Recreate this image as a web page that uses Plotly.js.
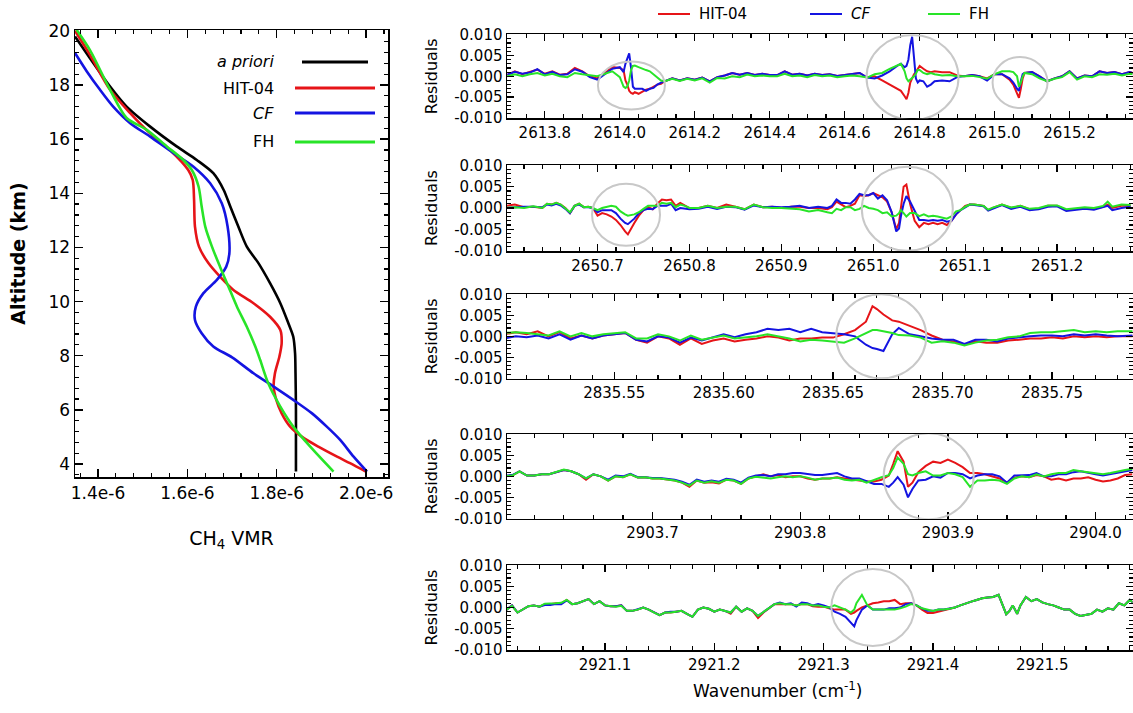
<!DOCTYPE html>
<html><head><meta charset="utf-8">
<script src="https://cdn.plot.ly/plotly-3.0.1.min.js"></script>
<style>html,body{margin:0;padding:0;background:#fff}#chart{width:1133px;height:713px}</style>
</head><body><div id="chart"></div>
<script>
// ---------------- Left panel: CH4 VMR profiles (VMR in units of 1e-6) ----------------
const altApriori = [19.79,18.99,17.94,17.20,16.47,15.73,15.23,14.74,14.13,13.51,12.77,12.03,11.42,10.68,9.94,9.20,8.70,8.09,7.36,6.00,5.00,3.72];
const vmrApriori = [1.3485,1.382,1.427,1.464,1.516,1.576,1.621,1.658,1.681,1.696,1.714,1.733,1.759,1.785,1.808,1.826,1.837,1.841,1.842,1.843,1.843,1.843];
const altHit = [20.0,19.11,17.82,16.96,16.22,15.60,14.86,14.49,13.76,12.77,12.03,11.42,10.92,10.43,9.94,9.44,8.95,8.46,7.97,7.35,6.86,6.37,5.87,5.38,5.01,4.64,4.27,4.03,3.72];
const vmrHit = [1.3485,1.382,1.427,1.472,1.516,1.561,1.602,1.612,1.615,1.617,1.626,1.647,1.673,1.703,1.748,1.785,1.808,1.811,1.806,1.796,1.793,1.799,1.811,1.830,1.856,1.893,1.935,1.964,1.9995];
const altCF = [19.18,18.50,17.82,17.20,16.59,16.10,15.48,14.99,14.37,13.63,12.77,11.79,11.29,10.80,10.31,9.81,9.32,8.83,8.34,7.94,7.35,6.86,6.37,5.87,5.38,4.89,4.27,3.72];
const vmrCF = [1.3485,1.375,1.4045,1.434,1.472,1.516,1.569,1.613,1.651,1.677,1.690,1.694,1.687,1.666,1.636,1.619,1.617,1.632,1.658,1.700,1.748,1.793,1.837,1.879,1.912,1.942,1.972,2.002];
const altFH = [20.04,19.29,17.82,16.78,16.34,15.73,15.23,14.86,14.25,13.51,12.77,12.03,11.29,10.55,9.81,9.07,8.34,7.84,6.98,6.12,5.38,4.64,3.72];
const vmrFH = [1.352,1.382,1.427,1.464,1.509,1.554,1.591,1.610,1.625,1.632,1.640,1.655,1.673,1.692,1.711,1.733,1.752,1.763,1.781,1.808,1.837,1.875,1.927];
const vmrTickVals = [1.4e-6,1.6e-6,1.8e-6,2.0e-6];
const vmrTickText = ['1.4e-6','1.6e-6','1.8e-6','2.0e-6'];
const profileNames = ['a priori','HIT-04','CF','FH'];

// ---------------- Residual panels ----------------
const x1 = [2613.70,2613.72,2613.74,2613.76,2613.78,2613.80,2613.82,2613.84,2613.86,2613.88,
2613.90,2613.92,2613.94,2613.96,2613.98,2614.00,2614.01,2614.015,2614.02,2614.025,
2614.03,2614.035,2614.04,2614.05,2614.06,2614.07,2614.08,2614.09,2614.10,2614.11,
2614.12,2614.14,2614.16,2614.18,2614.20,2614.22,2614.24,2614.26,2614.28,2614.30,
2614.32,2614.34,2614.36,2614.38,2614.40,2614.42,2614.44,2614.46,2614.48,2614.50,
2614.52,2614.54,2614.56,2614.58,2614.60,2614.62,2614.64,2614.66,2614.68,2614.70,
2614.72,2614.74,2614.75,2614.76,2614.765,2614.77,2614.775,2614.78,2614.785,2614.79,
2614.795,2614.80,2614.81,2614.82,2614.83,2614.84,2614.86,2614.88,2614.90,2614.92,
2614.94,2614.96,2614.98,2615.00,2615.02,2615.04,2615.05,2615.06,2615.065,2615.07,
2615.075,2615.08,2615.10,2615.12,2615.14,2615.16,2615.18,2615.20,2615.22,2615.24,
2615.26,2615.28,2615.30,2615.32,2615.34,2615.36,2615.37];
const r1 = [.0003,.0012,.0005,.0010,.0016,.0006,.0012,.0004,.0006,.0020,
.0012,0,-.0005,.0008,.0022,.0020,.0015,-.0010,-.0020,-.0035,
-.0040,-.0042,-.0038,-.0042,-.0038,-.0032,-.0030,-.0025,-.0020,-.0018,
-.0012,-.0005,-.0010,-.0005,-.0008,-.0003,-.0012,-.0002,.0002,.0008,
.0004,.0008,.0003,.0006,.0003,.0003,.0012,.0004,.0006,.0002,
.0006,.0003,.0005,.0001,.0003,.0005,.0008,-.0003,0,-.0010,
-.0020,-.0030,-.0035,-.0048,-.0055,-.0040,-.0015,-.0005,.0005,.0010,
.0018,.0025,.0018,.0012,.0010,.0012,.0010,.0010,.0002,0,
.0003,0,-.0005,.0005,.0005,-.0008,-.0020,-.0042,-.0052,-.0030,
-.0005,.0008,.0010,0,-.0012,-.0005,0,.0012,-.0005,.0002,
0,.0012,.0008,.0010,.0005,.0010,.0008];
const b1 = [.0004,.0011,.0006,.0009,.0017,.0005,.0011,.0003,.0005,.0017,
.0011,-.0002,-.0008,.0006,.0018,.0022,.0010,.0030,.0045,.0055,
.0020,-.0025,-.0030,-.0030,-.0030,-.0035,-.0030,-.0028,-.0020,-.0015,
-.0012,-.0005,-.0010,-.0005,-.0008,-.0003,-.0012,-.0002,.0002,.0008,
.0004,.0008,.0003,.0006,.0003,.0003,.0012,.0004,.0006,.0002,
.0006,.0003,.0005,.0001,.0003,.0005,.0008,-.0003,-.0005,.0002,
.0012,.0025,.0030,.0022,.0025,.0040,.0075,.0095,.0050,-.0005,
-.0015,-.0010,-.0012,-.0025,-.0020,-.0012,-.0010,-.0012,-.0002,0,
.0003,0,-.0010,.0005,.0005,-.0005,-.0015,-.0030,-.0035,-.0012,
.0005,.0008,.0010,0,-.0012,-.0005,0,.0012,-.0005,.0002,
0,.0012,.0008,.0010,.0005,.0010,.0008];
const g1 = [0,.0005,0,.0005,.0008,.0002,.0006,0,-.0002,.0008,
.0005,.0002,0,.0006,.0012,-.0002,-.0025,-.0028,-.0025,-.0010,
.0015,.0025,.0026,.0022,.0018,.0015,.0012,.0005,-.0002,-.0010,
-.0012,-.0006,-.0011,-.0006,-.0010,-.0005,-.0015,-.0004,-.0005,0,
-.0002,.0004,0,.0002,0,0,.0006,0,.0002,-.0002,
.0003,0,.0002,-.0002,0,.0002,0,-.0003,.0005,.0008,
.0018,.0025,.0030,.0012,-.0005,-.0012,-.0008,-.0005,0,.0006,
.0015,.0015,.0008,.0005,.0008,.0005,.0002,.0003,0,0,
.0001,-.0002,-.0006,.0005,.0012,.0012,.0010,0,-.0025,-.0015,
0,.0008,.0005,-.0005,-.0012,-.0006,-.0002,.0010,-.0008,0,
-.0002,.0005,.0004,.0006,.0002,.0006,.0005];

const x2 = [2650.60,2650.61,2650.62,2650.63,2650.64,2650.645,2650.65,2650.655,2650.66,2650.665,
2650.67,2650.675,2650.68,2650.685,2650.69,2650.695,2650.70,2650.705,2650.71,2650.715,
2650.72,2650.725,2650.73,2650.733,2650.74,2650.745,2650.75,2650.755,2650.76,2650.765,
2650.77,2650.775,2650.78,2650.785,2650.79,2650.795,2650.80,2650.81,2650.82,2650.83,
2650.84,2650.85,2650.86,2650.87,2650.88,2650.89,2650.90,2650.91,2650.92,2650.93,
2650.94,2650.95,2650.955,2650.96,2650.965,2650.97,2650.975,2650.98,2650.985,2650.99,
2650.995,2651.00,2651.005,2651.01,2651.015,2651.02,2651.025,2651.028,2651.03,2651.033,
2651.036,2651.04,2651.045,2651.05,2651.055,2651.06,2651.065,2651.07,2651.075,2651.08,
2651.085,2651.09,2651.095,2651.10,2651.105,2651.11,2651.12,2651.125,2651.13,2651.14,
2651.15,2651.16,2651.17,2651.18,2651.19,2651.20,2651.21,2651.22,2651.23,2651.24,
2651.25,2651.255,2651.26,2651.27,2651.28];
const r2 = [.0005,.0008,.0002,.0003,0,.0010,.0008,.0012,.0008,0,
-.0012,.0005,.0010,.0002,.0003,0,-.0018,-.0012,-.0015,-.0020,
-.0028,-.0040,-.0055,-.0062,-.0035,-.0018,-.0005,.0002,-.0003,.0010,
.0020,.0018,.0020,.0005,.0012,.0005,0,0,.0005,0,
.0008,.0003,-.0003,.0008,.0002,.0003,0,.0003,.0003,0,
0,-.0003,.0002,.0015,.0008,.0002,.0005,.0010,.0030,.0028,
.0030,.0035,.0030,.0025,.0015,-.0010,-.0050,-.0035,0,.0050,
.0055,.0010,-.0030,-.0045,-.0035,-.0038,-.0035,-.0038,-.0035,-.0040,
-.0030,-.0015,-.0005,.0005,.0008,.0008,.0005,-.0005,0,.0008,
0,.0005,-.0003,-.0002,.0005,.0005,-.0005,-.0002,0,-.0002,
.0003,.0008,0,.0005,.0005];
const b2 = [0,.0002,.0003,.0003,.0002,.0008,.0006,.0010,.0006,-.0002,
-.0012,.0005,.0008,.0002,.0002,0,-.0010,-.0005,-.0005,-.0005,
-.0012,-.0025,-.0035,-.0038,-.0025,-.0012,-.0005,-.0002,-.0003,.0005,
.0005,.0005,.0010,-.0005,0,-.0002,-.0003,-.0002,.0003,-.0002,
.0003,.0002,-.0004,.0006,.0002,.0003,.0002,.0003,.0005,0,
.0003,0,.0005,.0020,.0012,.0012,.0010,.0020,.0033,.0030,
.0030,.0035,.0022,.0030,.0018,-.0010,-.0055,-.0048,-.0020,.0010,
.0028,.0015,-.0005,-.0028,-.0028,-.0030,-.0028,-.0030,-.0028,-.0032,
-.0030,-.0015,-.0005,.0002,.0008,.0007,.0004,-.0006,-.0001,.0007,
-.0002,.0003,-.0005,-.0003,.0003,.0004,-.0007,-.0004,-.0002,-.0004,
.0001,.0005,-.0005,0,.0003];
const g2 = [0,.0002,0,.0004,0,.0010,.0008,.0012,.0008,0,
-.0010,.0005,.0010,.0002,.0003,0,-.0005,0,.0002,.0005,
.0003,-.0008,-.0015,-.0018,-.0015,-.0010,-.0002,.0005,.0005,.0005,
.0012,.0010,.0012,.0002,.0008,.0005,0,0,.0005,0,
.0003,.0003,-.0003,.0008,.0002,0,0,-.0001,-.0003,-.0008,
-.0005,-.0010,-.0012,-.0002,-.0005,.0002,.0002,-.0005,-.0002,.0005,
0,-.0002,-.0005,-.0012,-.0010,-.0020,-.0018,-.0012,-.0005,-.0012,
-.0020,-.0012,-.0012,-.0019,-.0015,-.0020,-.0018,-.0020,-.0022,-.0025,
-.0020,-.0008,-.0005,.0003,.0008,.0008,.0005,-.0004,.0001,.0008,
.0001,.0005,-.0002,0,.0006,.0006,-.0003,0,.0002,0,
.0005,.0015,.0003,.0008,.0007];

const x3 = [2835.500,2835.505,2835.510,2835.515,2835.520,2835.525,2835.530,2835.535,2835.540,2835.545,
2835.550,2835.555,2835.560,2835.565,2835.570,2835.575,2835.580,2835.585,2835.590,2835.595,
2835.600,2835.605,2835.610,2835.615,2835.620,2835.625,2835.630,2835.635,2835.640,2835.645,
2835.650,2835.655,2835.660,2835.665,2835.668,2835.670,2835.673,2835.677,2835.680,2835.685,
2835.690,2835.695,2835.700,2835.705,2835.710,2835.715,2835.720,2835.725,2835.730,2835.735,
2835.740,2835.745,2835.750,2835.755,2835.760,2835.765,2835.770,2835.775,2835.780,2835.787];
const r3 = [.0005,.0010,.0005,.0012,0,.0010,-.0005,.0002,-.0005,.0002,
.0005,.0008,-.0008,-.0015,0,-.0005,-.0020,-.0005,-.0018,-.0010,
-.0005,-.0012,-.0008,-.0005,0,-.0003,-.0010,-.0005,-.0005,-.0003,
-.0003,.0005,.0015,.0035,.0072,.0065,.0052,.0038,.0035,.0025,
.0015,.0002,-.0008,-.0012,-.0020,-.0012,-.0015,-.0015,-.0010,-.0008,
-.0005,-.0005,-.0002,-.0005,0,-.0002,0,-.0002,0,0];
const b3 = [-.0005,0,-.0002,.0002,-.0005,.0005,-.0008,.0002,-.0005,.0002,
.0005,.0008,-.0008,-.0012,0,-.0003,-.0015,-.0003,-.0010,-.0002,
.0005,-.0002,.0005,.0010,.0018,.0015,.0018,.0010,.0018,.0010,
.0008,.0005,0,-.0020,-.0028,-.0030,-.0035,.0005,.0020,.0005,
0,-.0005,-.0008,-.0008,-.0018,-.0008,-.0008,-.0012,-.0005,-.0002,
0,.0002,.0002,0,.0005,.0002,.0005,.0002,0,.0002];
const g3 = [.0008,.0010,.0008,.0005,.0002,.0012,0,.0008,0,.0005,
.0008,.0010,-.0005,-.0005,.0005,0,-.0010,.0002,-.0008,-.0003,
.0002,-.0005,-.0002,0,.0005,0,-.0005,-.0012,-.0008,-.0010,
-.0012,-.0015,-.0005,.0008,.0015,.0015,.0012,.0008,.0003,.0002,
-.0003,-.0015,-.0012,-.0015,-.0022,-.0015,-.0010,-.0008,-.0002,0,
.0008,.0010,.0010,.0012,.0015,.0010,.0012,.0010,.0012,.0012];

const x4 = [2903.600,2903.605,2903.610,2903.615,2903.620,2903.625,2903.630,2903.635,2903.640,2903.645,
2903.650,2903.655,2903.660,2903.665,2903.670,2903.675,2903.680,2903.685,2903.690,2903.695,
2903.700,2903.705,2903.710,2903.715,2903.720,2903.725,2903.730,2903.735,2903.740,2903.745,
2903.750,2903.755,2903.760,2903.765,2903.770,2903.775,2903.780,2903.785,2903.790,2903.795,
2903.800,2903.805,2903.810,2903.815,2903.820,2903.825,2903.830,2903.835,2903.840,2903.845,
2903.850,2903.855,2903.860,2903.863,2903.866,2903.870,2903.873,2903.876,2903.880,2903.885,
2903.890,2903.895,2903.900,2903.905,2903.910,2903.915,2903.920,2903.925,2903.930,2903.935,
2903.940,2903.945,2903.950,2903.955,2903.960,2903.965,2903.970,2903.975,2903.980,2903.985,
2903.990,2903.995,2904.000,2904.005,2904.010,2904.015,2904.020,2904.025];
const r4 = [0,.0002,.0012,.0002,.0002,.0005,.0005,.0010,.0015,.0012,
.0005,-.0008,.0005,0,-.0010,0,-.0002,.0005,-.0003,-.0002,
-.0005,-.0005,-.0008,-.0010,-.0015,-.0025,-.0010,-.0015,-.0014,-.0017,
-.0008,-.0010,-.0018,-.0005,0,.0005,0,.0003,-.0002,0,
0,-.0005,-.0008,-.0005,-.0005,-.0002,-.0005,-.0008,-.0010,-.0012,
-.0012,-.0008,.0002,.0030,.0060,.0035,-.0025,-.0015,.0010,.0025,
.0035,.0032,.0040,.0032,.0022,.0008,.0008,.0005,0,-.0005,
-.0015,-.0003,0,-.0002,.0003,0,-.0008,-.0005,-.0010,-.0005,
-.0005,-.0002,-.0008,-.0012,-.0010,-.0005,.0003,.0005];
const b4 = [.0002,.0003,.0012,.0002,.0002,.0005,.0005,.0010,.0015,.0012,
.0005,-.0005,.0005,0,-.0008,.0002,0,.0006,-.0002,-.0002,
-.0004,-.0004,-.0006,-.0008,-.0013,-.0020,-.0008,-.0013,-.0010,-.0013,
-.0006,-.0008,-.0015,-.0003,.0002,.0003,0,.0005,.0005,.0008,
.0008,.0005,.0003,.0003,.0005,.0008,0,-.0005,-.0005,-.0012,
-.0018,-.0018,-.0025,-.0015,-.0002,-.0020,-.0050,-.0030,-.0010,-.0008,
0,-.0003,.0008,.0008,.0005,-.0005,.0002,.0005,.0005,0,
-.0015,.0002,.0003,.0003,.0008,0,0,.0005,.0005,.0010,
.0012,.0008,.0005,.0002,.0005,.0008,.0012,.0015];
const g4 = [0,.0002,.0012,.0002,.0002,.0005,.0005,.0010,.0016,.0012,
.0005,-.0005,.0005,0,-.0010,0,-.0002,.0005,-.0003,-.0002,
-.0005,-.0005,-.0008,-.0010,-.0015,-.0022,-.0010,-.0015,-.0012,-.0015,
-.0008,-.0010,-.0018,-.0005,-.0001,-.0003,-.0005,-.0002,0,-.0002,
0,-.0003,-.0008,-.0005,-.0005,-.0003,-.0008,-.0010,-.0008,-.0015,
-.0008,-.0002,.0003,.0020,.0045,.0030,.0005,.0002,.0008,.0012,
.0002,.0002,.0008,.0005,-.0002,-.0025,-.0010,-.0010,-.0008,-.0010,
-.0018,-.0005,0,-.0002,.0005,0,.0005,.0008,.0008,.0015,
.0012,.0010,.0008,.0005,.0008,.0012,.0015,.0018];

const x5 = [2921.010,2921.015,2921.020,2921.025,2921.030,2921.035,2921.040,2921.045,2921.050,2921.055,
2921.060,2921.065,2921.070,2921.075,2921.080,2921.085,2921.090,2921.095,2921.100,2921.105,
2921.110,2921.115,2921.120,2921.125,2921.130,2921.135,2921.140,2921.145,2921.150,2921.155,
2921.160,2921.165,2921.170,2921.175,2921.180,2921.185,2921.190,2921.195,2921.200,2921.205,
2921.210,2921.215,2921.220,2921.225,2921.230,2921.235,2921.240,2921.245,2921.250,2921.255,
2921.260,2921.265,2921.270,2921.275,2921.280,2921.285,2921.290,2921.295,2921.300,2921.305,
2921.310,2921.315,2921.320,2921.325,2921.328,2921.330,2921.335,2921.340,2921.345,2921.350,
2921.355,2921.360,2921.365,2921.370,2921.375,2921.380,2921.385,2921.390,2921.395,2921.400,
2921.405,2921.410,2921.415,2921.420,2921.425,2921.430,2921.435,2921.440,2921.445,2921.450,
2921.455,2921.460,2921.465,2921.467,2921.470,2921.473,2921.477,2921.480,2921.485,2921.490,
2921.495,2921.500,2921.505,2921.510,2921.515,2921.520,2921.525,2921.530,2921.535,2921.540,
2921.545,2921.550,2921.555,2921.560,2921.565,2921.570,2921.575,2921.580,2921.583];
const r5 = [-.0005,.0005,-.0012,-.0005,.0003,.0005,.0002,.0008,.0008,.0010,
.0010,.0018,.0008,.0010,.0015,.0020,.0008,.0015,.0005,.0003,
.0003,.0005,-.0008,-.0008,-.0005,0,-.0005,-.0012,-.0018,-.0012,
-.0012,-.0010,-.0008,-.0015,-.0022,-.0005,0,-.0003,-.0010,-.0005,
-.0008,-.0015,.0002,-.0010,-.0002,-.0008,-.0025,-.0012,-.0002,.0008,
.0008,.0008,.0008,.0005,.0008,.0008,.0003,.0002,.0002,-.0002,
-.0005,-.0005,-.0005,-.0015,-.0012,-.0008,0,.0005,.0010,.0012,
.0015,.0015,.0018,.0008,.0010,.0010,.0005,-.0005,-.0013,-.0013,
-.0010,-.0007,-.0004,0,.0005,.0010,.0014,.0018,.0022,.0024,
.0025,.0030,-.0005,-.0016,-.0008,.0005,-.0015,.0005,.0025,.0015,
.0020,.0012,.0008,.0005,0,-.0005,-.0005,-.0015,-.0020,-.0018,
-.0015,-.0005,-.0010,-.0002,-.0005,.0010,.0005,.0018,.0012];
const b5 = [-.0005,.0005,-.0012,-.0005,.0003,.0005,.0002,.0006,.0006,.0008,
.0008,.0017,.0008,.0010,.0015,.0020,.0008,.0015,.0005,.0003,
.0003,.0005,-.0008,-.0008,-.0004,0,-.0005,-.0012,-.0018,-.0012,
-.0010,-.0010,-.0008,-.0015,-.0022,-.0005,0,-.0003,-.0010,-.0005,
-.0008,-.0012,.0002,-.0010,-.0002,-.0008,-.0020,-.0010,-.0002,.0008,
.0012,.0008,.0010,.0002,.0012,.0010,.0005,.0008,.0005,0,
-.0010,-.0015,-.0022,-.0035,-.0045,-.0030,-.0005,.0005,-.0005,-.0005,
-.0005,-.0002,-.0002,0,.0008,.0010,.0005,-.0002,-.0008,-.0008,
-.0005,-.0005,-.0003,0,.0005,.0010,.0014,.0018,.0022,.0024,
.0025,.0030,-.0005,-.0016,-.0008,.0005,-.0015,.0005,.0025,.0015,
.0020,.0012,.0008,.0005,0,-.0005,-.0005,-.0015,-.0020,-.0018,
-.0015,-.0005,-.0010,-.0002,-.0005,.0010,.0005,.0018,.0012];
const g5 = [-.0005,.0004,-.0012,-.0005,.0003,.0005,.0002,.0009,.0009,.0010,
.0011,.0018,.0008,.0010,.0015,.0020,.0008,.0015,.0005,.0003,
.0002,.0004,-.0008,-.0008,-.0005,0,-.0005,-.0012,-.0018,-.0012,
-.0012,-.0010,-.0008,-.0015,-.0022,-.0005,0,-.0003,-.0010,-.0005,
-.0008,-.0012,.0002,-.0010,-.0002,-.0008,-.0020,-.0010,-.0002,.0008,
.0010,.0008,.0008,.0005,.0008,.0008,.0005,.0005,.0002,0,
.0005,0,-.0005,-.0012,-.0005,.0010,.0030,.0005,-.0005,-.0005,
-.0005,-.0005,-.0005,-.0002,.0002,.0008,.0005,-.0002,-.0005,-.0008,
-.0005,-.0005,-.0003,0,.0005,.0010,.0014,.0018,.0022,.0024,
.0025,.0030,-.0005,-.0016,-.0008,.0005,-.0015,.0005,.0025,.0015,
.0020,.0012,.0008,.0005,0,-.0005,-.0005,-.0015,-.0020,-.0018,
-.0015,-.0005,-.0010,-.0002,-.0005,.0010,.0005,.0018,.0012];

const residualTickVals = [-0.010,-0.005,0,0.005,0.010];
const residualTickText = ['-0.010','-0.005','0.000','0.005','0.010'];
const seriesNames = ['HIT-04','CF','FH'];

// ---------------- Rendering ----------------
const W = 1133, H = 713;
const px = v => v / W, py = v => 1 - v / H;
const RED = 'rgb(230,20,24)', BLUE = 'rgb(20,20,225)', GREEN = 'rgb(40,228,40)', GREY = 'rgb(200,200,200)';
const FONT = 'DejaVu Sans, sans-serif';

const traces = [];
const profiles = [
  [vmrApriori, altApriori, 'black'], [vmrHit, altHit, RED], [vmrCF, altCF, BLUE], [vmrFH, altFH, GREEN]
];
profiles.forEach((p, i) => traces.push({
  x: p[0].map(v => v * 1e-6), y: p[1], xaxis: 'x', yaxis: 'y', type: 'scatter', mode: 'lines',
  name: profileNames[i], line: {color: p[2], width: 2.6, shape: 'spline', smoothing: 0.8}, showlegend: false
}));

const panels = [
  {x: x1, r: r1, b: b1, g: g1, range: [2613.699, 2615.368], dtick: 0.2, tick0: 2613.8, minor: 0.05, fmt: '.1f', top: 34.3, bot: 118.3,
   circles: [[2614.031, -0.0022, 67, 48], [2614.781, -0.0003, 92, 85], [2615.068, -0.0015, 55, 51]]},
  {x: x2, r: r2, b: b2, g: g2, range: [2650.6015, 2651.282], dtick: 0.1, tick0: 2650.7, minor: 0.02, fmt: '.1f', top: 165, bot: 251,
   circles: [[2650.731, -0.0016, 68, 62], [2651.037, -0.0002, 91, 84]]},
  {x: x3, r: r3, b: b3, g: g3, range: [2835.501, 2835.7868], dtick: 0.05, tick0: 2835.55, minor: 0.01, fmt: '.2f', top: 294, bot: 378.7,
   circles: [[2835.672, 0, 90, 84]]},
  {x: x4, r: r4, b: b4, g: g4, range: [2903.6015, 2904.025], dtick: 0.1, tick0: 2903.7, minor: 0.02, fmt: '.1f', top: 434, bot: 518.7,
   circles: [[2903.887, 0, 90, 86]]},
  {x: x5, r: r5, b: b5, g: g5, range: [2921.0104, 2921.5825], dtick: 0.1, tick0: 2921.1, minor: 0.02, fmt: '.1f', top: 565, bot: 650,
   circles: [[2921.345, 0, 83, 77]]}
];

const axisLine = {showline: true, linecolor: 'black', linewidth: 1.5, mirror: 'ticks', ticks: 'inside',
  tickcolor: 'black', tickwidth: 1.3, showgrid: false, zeroline: false};

const layout = {
  width: W, height: H, margin: {l: 0, r: 0, t: 0, b: 0}, paper_bgcolor: 'white', plot_bgcolor: 'white',
  showlegend: false, font: {family: FONT, color: 'black'},
  xaxis: Object.assign({}, axisLine, {domain: [px(75), px(388)], anchor: 'y', range: [1.3485e-6, 2.049e-6],
    tickmode: 'array', tickvals: vmrTickVals, ticktext: vmrTickText, ticklen: 8,
    minor: {ticks: 'inside', ticklen: 4, dtick: 0.04e-6, tick0: 1.4e-6, tickcolor: 'black', tickwidth: 1.2},
    tickfont: {size: 17, family: FONT},
    title: {text: 'CH<sub>4</sub> VMR', font: {size: 19, family: FONT}, standoff: 30}}),
  yaxis: Object.assign({}, axisLine, {domain: [py(477), py(30)], anchor: 'x', range: [3.52, 20.03],
    dtick: 2, tick0: 0, ticklen: 8,
    minor: {ticks: 'inside', ticklen: 4, dtick: 0.4, tick0: 0, tickcolor: 'black', tickwidth: 1.2},
    tickfont: {size: 17, family: FONT},
    title: {text: '<b>Altitude (km)</b>', font: {size: 19, family: FONT}, standoff: 18}}),
  shapes: [], annotations: []
};

panels.forEach((p, i) => {
  const n = i + 2, xa = 'x' + n, ya = 'y' + n;
  [[p.r, RED], [p.b, BLUE], [p.g, GREEN]].forEach((s, k) => traces.push({
    x: p.x, y: s[0], xaxis: xa, yaxis: ya, type: 'scatter', mode: 'lines', name: seriesNames[k],
    line: {color: s[1], width: 2}, showlegend: false
  }));
  layout['xaxis' + n] = Object.assign({}, axisLine, {domain: [px(507), px(1132.5)], anchor: ya, range: p.range,
    dtick: p.dtick, tick0: p.tick0, tickformat: p.fmt, ticklen: 7,
    minor: {ticks: 'inside', ticklen: 4, dtick: p.minor, tick0: p.tick0, tickcolor: 'black', tickwidth: 1.2},
    tickfont: {size: 15, family: FONT}});
  layout['yaxis' + n] = Object.assign({}, axisLine, {domain: [py(p.bot), py(p.top)], anchor: xa, range: [-0.0101, 0.0101],
    tickmode: 'array', tickvals: residualTickVals, ticktext: residualTickText, ticklen: 7,
    minor: {ticks: 'inside', ticklen: 3.5, dtick: 0.001, tick0: 0, tickcolor: 'black', tickwidth: 1.1},
    tickfont: {size: 15, family: FONT},
    title: {text: 'Residuals', font: {size: 16, family: FONT}, standoff: 12}});
  p.circles.forEach(c => layout.shapes.push({
    type: 'circle', xref: xa, yref: ya, xsizemode: 'pixel', ysizemode: 'pixel',
    xanchor: c[0], yanchor: c[1], x0: -c[2] / 2, x1: c[2] / 2, y0: -c[3] / 2, y1: c[3] / 2,
    line: {color: GREY, width: 2}
  }));
});

// Left-panel legend (text right-aligned, line to the right)
const leftLegend = [['<i>a priori</i>', 'black', 62, 302, 368], ['HIT-04', RED, 88, 295, 375], ['<i>CF</i>', BLUE, 113, 295, 375], ['FH', GREEN, 142, 295, 375]];
leftLegend.forEach(l => {
  layout.shapes.push({type: 'line', xref: 'paper', yref: 'paper', x0: px(l[3]), x1: px(l[4]), y0: py(l[2]), y1: py(l[2]),
    line: {color: l[1], width: 3}});
  layout.annotations.push({xref: 'paper', yref: 'paper', x: px(276), y: py(l[2]), xanchor: 'right', yanchor: 'middle',
    text: l[0], showarrow: false, font: {size: 16, family: FONT, color: 'black'}});
});
// Top legend
const topLegend = [['HIT-04', RED, 658], ['<i>CF</i>', BLUE, 810], ['FH', GREEN, 928]];
topLegend.forEach(l => {
  layout.shapes.push({type: 'line', xref: 'paper', yref: 'paper', x0: px(l[2]), x1: px(l[2] + 32), y0: py(14), y1: py(14),
    line: {color: l[1], width: 2}});
  layout.annotations.push({xref: 'paper', yref: 'paper', x: px(l[2] + 39), y: py(14), xanchor: 'left', yanchor: 'middle',
    text: l[0], showarrow: false, font: {size: 15, family: FONT, color: 'black'}});
});
layout.annotations.push({xref: 'paper', yref: 'paper', x: px(777), y: py(690), xanchor: 'center', yanchor: 'middle',
  text: 'Wavenumber (cm<sup>-1</sup>)', showarrow: false, font: {size: 17, family: FONT, color: 'black'}});

Plotly.newPlot('chart', traces, layout, {displayModeBar: false, staticPlot: true});
</script></body></html>
